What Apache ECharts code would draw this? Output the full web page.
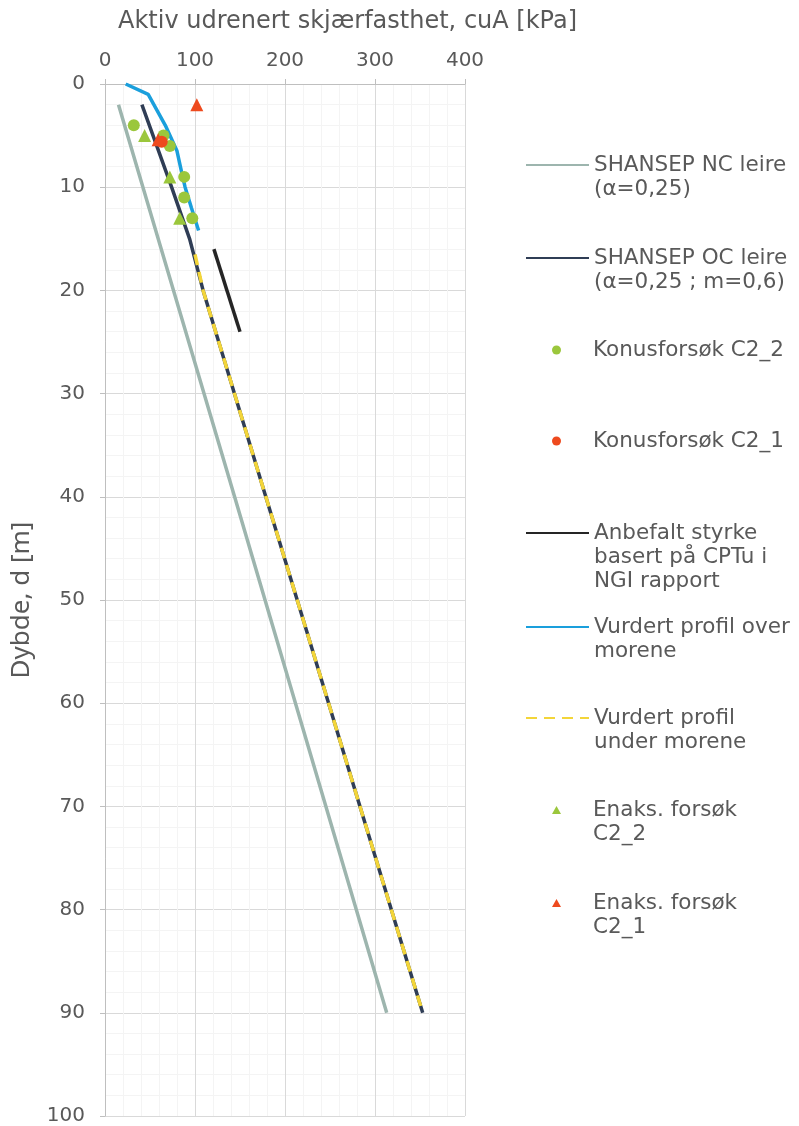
<!DOCTYPE html>
<html>
<head>
<meta charset="utf-8">
<script src="https://cdn.jsdelivr.net/npm/echarts@6/dist/echarts.min.js"></script>
<style>
html,body{margin:0;padding:0;background:#fff;}
#chart{width:799px;height:1126px;}
</style>
</head>
<body>
<div id="chart"></div>
<script>
// ---- Data (x = cuA [kPa], y = depth d [m]) ----
const xTicks = [0, 100, 200, 300, 400];
const yTicks = [0, 10, 20, 30, 40, 50, 60, 70, 80, 90, 100];

const shansepNC = [[15, 2], [144, 40], [313, 90]];
const shansepOC = [[41, 2], [74, 10], [94, 15], [109, 20], [353, 90]];
const konusC2_2 = [[32, 4], [65, 5], [72, 6], [88, 9], [88, 11], [97, 13]];
const konusC2_1 = [[63, 5.6]];
const anbefalt = [[121, 16], [150, 24]];
const profilOver = [[23, 0], [48, 1], [67, 4], [80, 6.5], [85, 8.5], [89, 10], [96, 12], [104, 14.2]];
const profilUnder = [[100, 16.5], [109, 20], [353, 90]];
const enaksC2_2 = [[44, 5], [72, 9], [83, 13]];
const enaksC2_1 = [[102, 2], [59, 5.4]];

const seriesNames = [
  'SHANSEP NC leire (α=0,25)',
  'SHANSEP OC leire (α=0,25 ; m=0,6)',
  'Konusforsøk C2_2',
  'Konusforsøk C2_1',
  'Anbefalt styrke basert på CPTu i NGI rapport',
  'Vurdert profil over morene',
  'Vurdert profil under morene',
  'Enaks. forsøk C2_2',
  'Enaks. forsøk C2_1'
];
const legendLines = [
  ['SHANSEP NC leire', '(α=0,25)'],
  ['SHANSEP OC leire', '(α=0,25 ; m=0,6)'],
  ['Konusforsøk C2_2'],
  ['Konusforsøk C2_1'],
  ['Anbefalt styrke', 'basert på CPTu i', 'NGI rapport'],
  ['Vurdert profil over', 'morene'],
  ['Vurdert profil', 'under morene'],
  ['Enaks. forsøk', 'C2_2'],
  ['Enaks. forsøk', 'C2_1']
];
const xTitle = 'Aktiv udrenert skjærfasthet, cuA [kPa]';
const yTitle = 'Dybde, d [m]';

// ---- Styles ----
const TXT = '#595959';
const FONT = 'DejaVu Sans';
const C = {
  nc: '#9db5ae', oc: '#2f3d55', green: '#9bc73c', red: '#ee4a1e',
  black: '#252525', blue: '#1a9fdc', yellow: '#f3d539'
};
const firstLineY = [165, 258, 350, 441, 533, 627, 718, 810, 903];
const LH = 24;
const TRI = 'path://M5,0 L10,9 L0,9 Z';

function labelFor(name) {
  const i = seriesNames.indexOf(name);
  const lines = legendLines[i];
  const pad = [];
  for (let k = 0; k < lines.length - 1; k++) pad.push(' ');
  return pad.concat(lines).join('\n');
}

const legends = seriesNames.map((name, i) => {
  const n = legendLines[i].length;
  const isCircle = (i === 2 || i === 3);
  const isTri = (i === 7 || i === 8);
  const lg = {
    data: [name],
    left: 525,
    top: firstLineY[i] - (2 * n - 1) * LH / 2,
    padding: 0,
    itemWidth: 63,
    itemHeight: 14,
    selectedMode: false,
    formatter: labelFor,
    textStyle: { color: TXT, fontSize: 21.5, fontFamily: FONT, lineHeight: LH }
  };
  if (isCircle || isTri) {
    lg.itemHeight = 9;
    lg.left = 552;
    lg.itemWidth = 9;
    lg.itemGap = 0;
    lg.textStyle.padding = [0, 0, 0, 27];
    if (isTri) { lg.icon = TRI; lg.symbolKeepAspect = true; }
  } else {
    lg.itemStyle = { opacity: 0 };
  }
  return lg;
});

function lineSeries(idx, data, color, extra) {
  return Object.assign({
    name: seriesNames[idx], type: 'line', data: data,
    symbol: 'none', showSymbol: false, z: 2,
    lineStyle: { color: color, width: 3.5 },
    itemStyle: { color: color }
  }, extra || {});
}
function scatterSeries(idx, data, color, symbol) {
  return {
    name: seriesNames[idx], type: 'scatter', data: data,
    symbol: symbol, symbolSize: symbol === 'triangle' ? 13 : 12, z: 4,
    itemStyle: { color: color, opacity: 1 }
  };
}

const chart = echarts.init(document.getElementById('chart'), null, { renderer: 'canvas' });
chart.setOption({
  animation: false,
  backgroundColor: '#ffffff',
  title: {
    text: xTitle, left: 113, top: 5,
    textStyle: { color: TXT, fontSize: 24, fontWeight: 'normal', fontFamily: FONT }
  },
  legend: legends,
  grid: { left: 105, top: 84, width: 360, height: 1033, containLabel: false },
  xAxis: {
    type: 'value', position: 'top', min: 0, max: 400, interval: 100,
    axisLine: { show: true, lineStyle: { color: '#bfbfbf', width: 1 } },
    axisTick: { show: true, length: 5, lineStyle: { color: '#bfbfbf' } },
    axisLabel: { color: TXT, fontSize: 20, fontFamily: FONT, margin: 13,
      formatter: v => xTicks.indexOf(v) >= 0 ? String(v) : '' },
    splitLine: { show: true, lineStyle: { color: '#d9d9d9', width: 1 } },
    minorTick: { show: false, splitNumber: 5 },
    minorSplitLine: { show: true, lineStyle: { color: '#f4f4f4', width: 1 } }
  },
  yAxis: {
    type: 'value', inverse: true, min: 0, max: 100, interval: 10,
    name: yTitle, nameLocation: 'middle', nameGap: 70, nameRotate: 90,
    nameTextStyle: { color: TXT, fontSize: 26, fontFamily: 'Noto Sans' },
    axisLine: { show: true, lineStyle: { color: '#bfbfbf', width: 1 } },
    axisTick: { show: true, length: 5, lineStyle: { color: '#bfbfbf' } },
    axisLabel: { color: TXT, fontSize: 20, fontFamily: FONT, margin: 20,
      formatter: v => yTicks.indexOf(v) >= 0 ? String(v) : '' },
    splitLine: { show: true, lineStyle: { color: '#d9d9d9', width: 1 } },
    minorTick: { show: false, splitNumber: 5 },
    minorSplitLine: { show: true, lineStyle: { color: '#f4f4f4', width: 1 } }
  },
  series: [
    lineSeries(0, shansepNC, C.nc),
    lineSeries(1, shansepOC, C.oc),
    scatterSeries(2, konusC2_2, C.green, 'circle'),
    scatterSeries(3, konusC2_1, C.red, 'circle'),
    lineSeries(4, anbefalt, C.black),
    lineSeries(5, profilOver, C.blue),
    lineSeries(6, profilUnder, C.yellow, {
      z: 3, lineStyle: { color: C.yellow, width: 3.5, type: [11, 7] }
    }),
    scatterSeries(7, enaksC2_2, C.green, 'triangle'),
    scatterSeries(8, enaksC2_1, C.red, 'triangle')
  ]
});
</script>
</body>
</html>
